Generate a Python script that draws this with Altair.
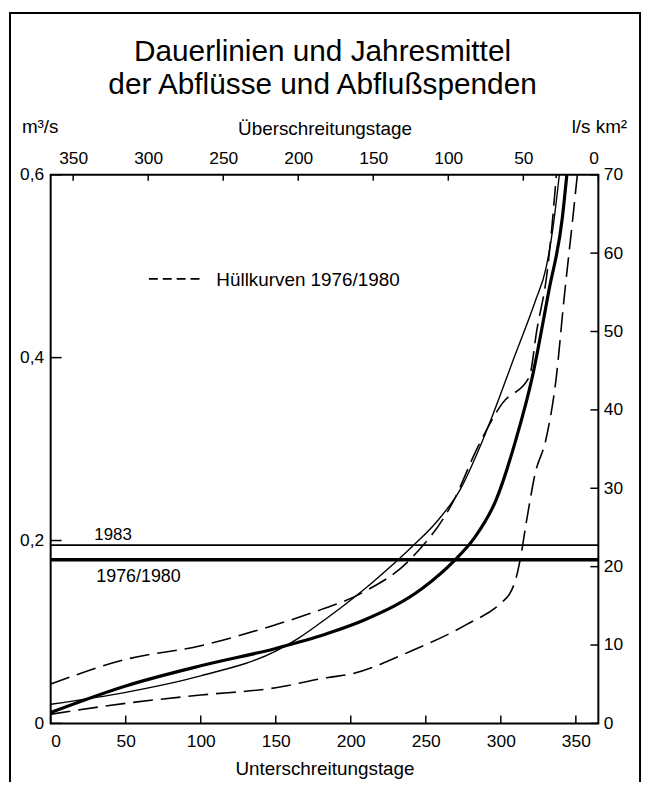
import altair as alt
import pandas as pd

# ---------------- data ----------------
title_lines = ["Dauerlinien und Jahresmittel", "der Abflüsse und Abflußspenden"]

# Dauerlinie Mittel 1976/1980 (thick)
days_mean = [0, 50, 100, 150, 184, 209, 248, 269, 282, 297, 310, 321, 332, 341, 344]
q_mean = [0.012, 0.041, 0.063, 0.082, 0.098, 0.113, 0.148, 0.178, 0.202, 0.245, 0.310, 0.379, 0.473, 0.553, 0.600]

# Dauerlinie 1983 (thin)
days_1983 = [0, 50, 100, 150, 165, 184, 215, 242, 257, 273, 288, 310, 323, 330, 335, 339]
q_1983 = [0.021, 0.034, 0.052, 0.079, 0.093, 0.115, 0.155, 0.195, 0.220, 0.256, 0.310, 0.405, 0.462, 0.497, 0.545, 0.600]

# Hüllkurven 1976/1980 (dashed)
days_env_hi = [0, 50, 100, 150, 176, 209, 240, 269, 284, 301, 319, 324, 331, 334, 337]
q_env_hi = [0.043, 0.070, 0.085, 0.108, 0.122, 0.144, 0.180, 0.245, 0.300, 0.350, 0.379, 0.430, 0.495, 0.542, 0.600]

days_env_lo = [0, 50, 100, 150, 184, 200, 240, 277, 301, 306, 310, 313, 317, 323, 330, 337, 342, 348, 351]
q_env_lo = [0.010, 0.022, 0.031, 0.039, 0.050, 0.054, 0.079, 0.108, 0.133, 0.142, 0.158, 0.180, 0.220, 0.274, 0.310, 0.379, 0.462, 0.553, 0.600]

# Jahresmittel
mean_levels = [0.195, 0.179]
mean_names = ["1983", "1976/1980"]

legend_text = ["Hüllkurven 1976/1980"]
unit_left = ["m³/s"]
unit_right = ["l/s km²"]

bottom_ticks = [0, 50, 100, 150, 200, 250, 300, 350]
top_ticks = [0, 50, 100, 150, 200, 250, 300, 350]
left_ticks = [0, 0.2, 0.4, 0.6]
right_ticks = [0, 10, 20, 30, 40, 50, 60, 70]

# ---------------- styling ----------------
W, H = 552, 553
FONT = "Liberation Sans"
BLACK = "black"

xs = alt.Scale(domain=[0, 365], nice=False, zero=False)
ys = alt.Scale(domain=[0, 0.6], nice=False)

bottom_axis = alt.Axis(orient="bottom", values=bottom_ticks, ticks=False, domain=False, grid=False,
                       labelFont=FONT, labelFontSize=17.5, labelColor=BLACK, labelPadding=9,
                       title="Unterschreitungstage", titleFont=FONT, titleFontSize=19,
                       titleFontWeight="normal", titleColor=BLACK, titlePadding=10)
left_axis = alt.Axis(orient="left", values=left_ticks, ticks=False, domain=False, grid=False,
                     labelFont=FONT, labelFontSize=17.5, labelColor=BLACK, labelPadding=7,
                     labelExpr="datum.value == 0 ? '0' : replace(format(datum.value, '.1f'), '.', ',')",
                     title=None)


def curve(days, q, width, dash=None):
    df = pd.DataFrame({"d": days, "q": q})
    kw = dict(color=BLACK, strokeWidth=width, interpolate="monotone", clip=True)
    if dash:
        kw["strokeDash"] = dash
    return alt.Chart(df).mark_line(**kw).encode(
        x=alt.X("d:Q", scale=xs, axis=bottom_axis),
        y=alt.Y("q:Q", scale=ys, axis=left_axis),
    )


c_mean = curve(days_mean, q_mean, 3.2)
c_1983 = curve(days_1983, q_1983, 1.4)
c_hi = curve(days_env_hi, q_env_hi, 1.6, [20, 8])
c_lo = curve(days_env_lo, q_env_lo, 1.6, [20, 8])

means_df = pd.DataFrame({"q": mean_levels, "name": mean_names, "w": [1.6, 3.6]})
mean_rules = alt.Chart(means_df).mark_rule(color=BLACK).encode(
    y=alt.Y("q:Q", scale=ys, axis=left_axis),
    strokeWidth=alt.StrokeWidth("w:Q", scale=None, legend=None),
)

lab_1983 = alt.Chart(pd.DataFrame({"t": [mean_names[0]]})).mark_text(
    font=FONT, fontSize=17, align="left", baseline="alphabetic", color=BLACK
).encode(text="t:N", x=alt.value(44), y=alt.value(368))
lab_7680 = alt.Chart(pd.DataFrame({"t": [mean_names[1]]})).mark_text(
    font=FONT, fontSize=18, align="left", baseline="alphabetic", color=BLACK
).encode(text="t:N", x=alt.value(46), y=alt.value(410))

leg_dash = alt.Chart(pd.DataFrame({"t": legend_text})).mark_rule(
    color=BLACK, strokeWidth=1.6, strokeDash=[9, 5]
).encode(x=alt.value(99), x2=alt.value(154), y=alt.value(105))
leg_text = alt.Chart(pd.DataFrame({"t": legend_text})).mark_text(
    font=FONT, fontSize=19, align="left", baseline="alphabetic", color=BLACK
).encode(text="t:N", x=alt.value(167), y=alt.value(112))

title1 = alt.Chart(pd.DataFrame({"t": [title_lines[0]]})).mark_text(
    font=FONT, fontSize=30, align="center", baseline="alphabetic", color=BLACK
).encode(text="t:N", x=alt.value(274), y=alt.value(-115))
title2 = alt.Chart(pd.DataFrame({"t": [title_lines[1]]})).mark_text(
    font=FONT, fontSize=30, align="center", baseline="alphabetic", color=BLACK
).encode(text="t:N", x=alt.value(274), y=alt.value(-81))

unit_l = alt.Chart(pd.DataFrame({"t": unit_left})).mark_text(
    font=FONT, fontSize=19, align="left", baseline="alphabetic", color=BLACK
).encode(text="t:N", x=alt.value(-29), y=alt.value(-42))
unit_r = alt.Chart(pd.DataFrame({"t": unit_right})).mark_text(
    font=FONT, fontSize=19, align="right", baseline="alphabetic", color=BLACK
).encode(text="t:N", x=alt.value(581), y=alt.value(-42))

# inward ticks on bottom / left
bt = alt.Chart(pd.DataFrame({"d": bottom_ticks})).mark_rule(color=BLACK, strokeWidth=1.5).encode(
    x=alt.X("d:Q", scale=xs, axis=bottom_axis), y=alt.value(H), y2=alt.value(H - 8))
lt = alt.Chart(pd.DataFrame({"q": left_ticks})).mark_rule(color=BLACK, strokeWidth=1.5).encode(
    y=alt.Y("q:Q", scale=ys, axis=left_axis), x=alt.value(0), x2=alt.value(11))

# outer frame of the figure
frame = alt.Chart(pd.DataFrame({"t": [0]})).mark_rect(
    fill=None, fillOpacity=0, stroke=BLACK, strokeWidth=2
).encode(x=alt.value(-41), x2=alt.value(594), y=alt.value(-163), y2=alt.value(700))

main = alt.layer(frame, mean_rules, c_lo, c_hi, c_1983, c_mean, bt, lt,
                 lab_1983, lab_7680, leg_dash, leg_text, title1, title2, unit_l, unit_r)

top_layer = alt.Chart(pd.DataFrame({"u": top_ticks})).mark_rule(color=BLACK, strokeWidth=1.5).encode(
    x=alt.X("u:Q", scale=alt.Scale(domain=[0, 365], reverse=True, nice=False, zero=False),
            axis=alt.Axis(orient="top", values=top_ticks, ticks=False, domain=False, grid=False,
                          labelFont=FONT, labelFontSize=17.5, labelColor=BLACK, labelPadding=7,
                          title="Überschreitungstage", titleFont=FONT, titleFontSize=19,
                          titleFontWeight="normal", titleColor=BLACK, titlePadding=12)),
    y=alt.value(0), y2=alt.value(6))

right_layer = alt.Chart(pd.DataFrame({"s": right_ticks})).mark_rule(color=BLACK, strokeWidth=1.5).encode(
    y=alt.Y("s:Q", scale=alt.Scale(domain=[0, 70], nice=False),
            axis=alt.Axis(orient="right", values=right_ticks, ticks=False, domain=False, grid=False,
                          labelFont=FONT, labelFontSize=17.5, labelColor=BLACK, labelPadding=5,
                          title=None)),
    x=alt.value(W - 8), x2=alt.value(W))

chart = alt.layer(main, top_layer, right_layer).resolve_scale(
    x="independent", y="independent"
).properties(
    width=W, height=H,
    padding={"left": 43, "top": 165, "right": 45, "bottom": 56},
    autosize=alt.AutoSizeParams(type="none"),
    background="white",
).configure_view(stroke=BLACK, strokeWidth=2)

chart.save("out.html", embed_options={"renderer": "svg", "actions": False})
